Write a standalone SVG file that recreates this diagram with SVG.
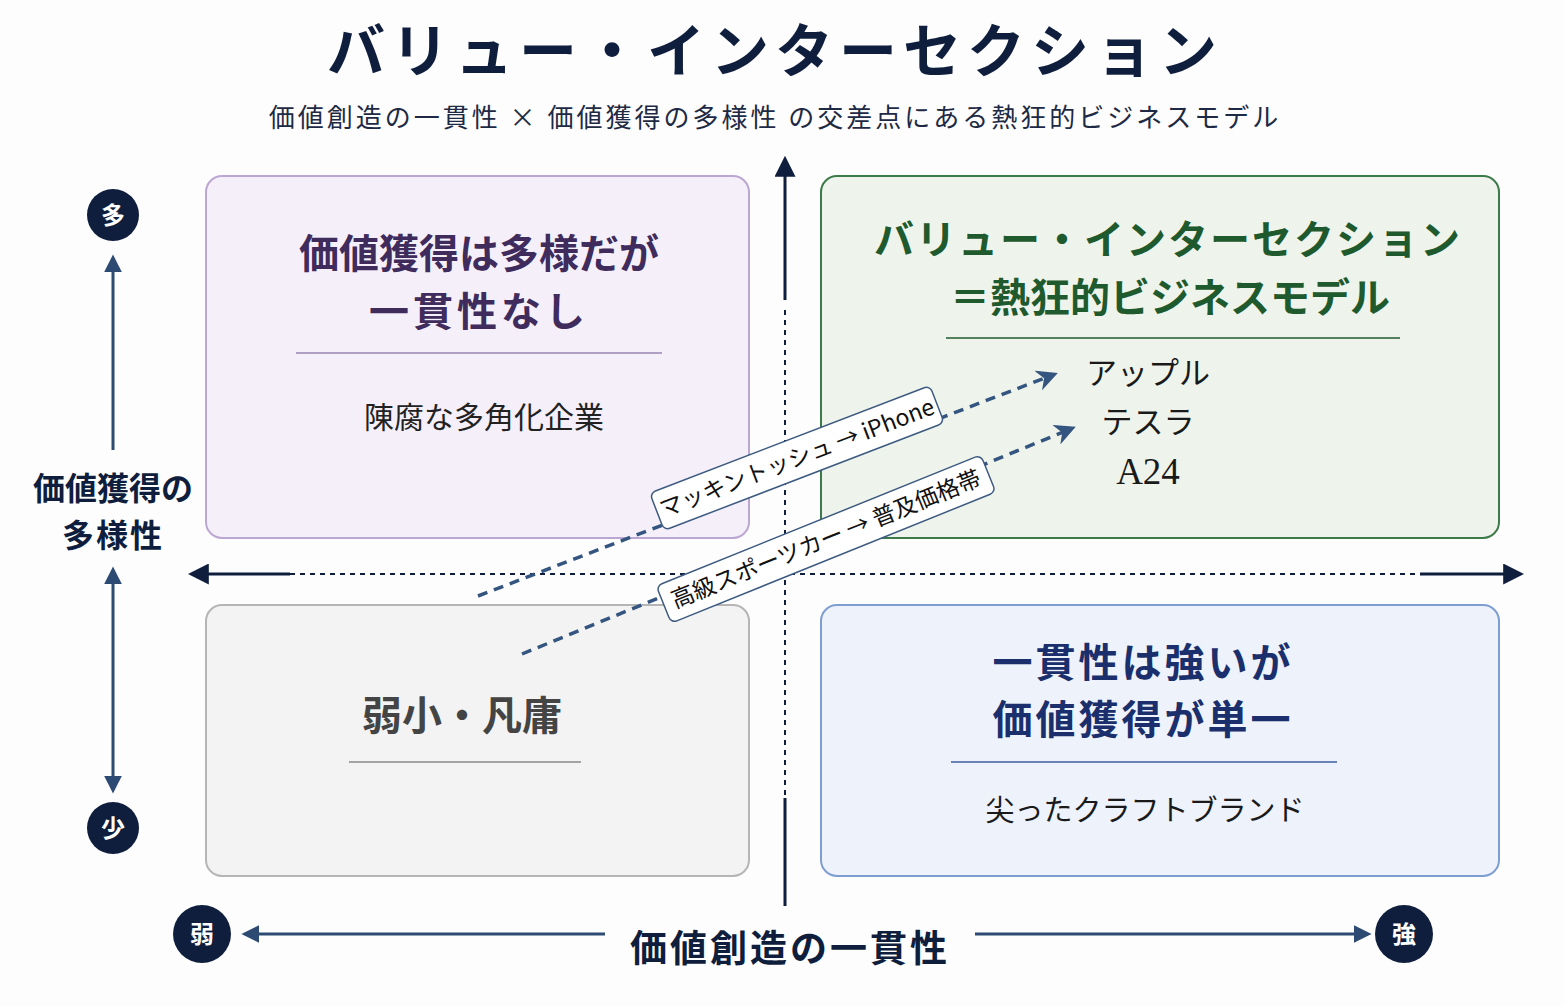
<svg xmlns="http://www.w3.org/2000/svg" width="1564" height="1006" viewBox="0 0 1564 1006">
<defs>
<style>
text{font-family:"Noto Sans CJK JP","Noto Sans",sans-serif;text-anchor:middle}
.b{font-weight:700}
.ax{stroke:#0f1e3d;stroke-width:3;fill:none}
.dash{stroke:#0f1e3d;stroke-width:2;stroke-dasharray:5 5;fill:none}
.side{stroke:#2c4a72;stroke-width:3;fill:none}
.mv{stroke:#34557f;stroke-width:3.5;stroke-dasharray:10 7;fill:none}
.circ{fill:#0f1e3d}
.ct{fill:#fff;font-size:24px;font-weight:700}
.lbl{fill:#fff;stroke:#3d5a80;stroke-width:1.5}
</style>
<marker id="ah" viewBox="0 0 10 10" refX="8" refY="5" markerWidth="7" markerHeight="7" orient="auto-start-reverse"><path d="M0,0L10,5L0,10z" fill="#0f1e3d"/></marker>
<marker id="as" viewBox="0 0 10 10" refX="8" refY="5" markerWidth="6" markerHeight="6" orient="auto-start-reverse"><path d="M0,0L10,5L0,10z" fill="#2c4a72"/></marker>
<marker id="am" viewBox="0 0 10 10" refX="6" refY="5" markerWidth="6" markerHeight="6" orient="auto"><path d="M0,0L10,5L0,10L3,5z" fill="#34557f"/></marker>
</defs>
<rect width="1564" height="1006" fill="#fdfdfd"/>
<g id="title">
<text x="775" y="72" class="b" font-size="58" fill="#0f1e3d" letter-spacing="6">バリュー・インターセクション</text>
<text x="775" y="127" font-size="26" fill="#1e2a44" letter-spacing="3">価値創造の一貫性 × 価値獲得の多様性 の交差点にある熱狂的ビジネスモデル</text>
</g>
<g id="q-tl">
<rect x="206" y="176" width="543" height="362" rx="16" fill="#f4eff8" stroke="#bca6d2" stroke-width="2"/>
<text x="479" y="268" class="b" font-size="40" fill="#3f2b5c">価値獲得は多様だが</text>
<text x="479" y="326" class="b" font-size="40" fill="#3f2b5c" letter-spacing="4">一貫性なし</text>
<line x1="296" y1="353" x2="662" y2="353" stroke="#9a85b5" stroke-width="1.5"/>
<text x="484" y="428" font-size="30" fill="#222">陳腐な多角化企業</text>
</g>
<g id="q-tr">
<rect x="821" y="176" width="678" height="362" rx="16" fill="#eef4ec" stroke="#3d7a4a" stroke-width="2"/>
<text x="1168" y="254" class="b" font-size="40" fill="#1f5a2e" letter-spacing="2">バリュー・インターセクション</text>
<text x="1170" y="312" class="b" font-size="40" fill="#1f5a2e">＝熱狂的ビジネスモデル</text>
<line x1="946" y1="338" x2="1400" y2="338" stroke="#1f5a2e" stroke-width="1.5"/>
<text x="1148" y="384" font-size="31" fill="#1a1a1a">アップル</text>
<text x="1148" y="433" font-size="31" fill="#1a1a1a">テスラ</text>
<text x="1148" y="484" font-size="37" fill="#1a1a1a" style="font-family:'Liberation Serif',serif">A24</text>
</g>
<g id="q-bl">
<rect x="206" y="605" width="543" height="271" rx="16" fill="#f3f3f3" stroke="#b5b5b5" stroke-width="2"/>
<text x="462" y="730" class="b" font-size="40" fill="#444">弱小・凡庸</text>
<line x1="349" y1="762" x2="581" y2="762" stroke="#888" stroke-width="1.5"/>
</g>
<g id="q-br">
<rect x="821" y="605" width="678" height="271" rx="16" fill="#edf2fb" stroke="#7e9ed2" stroke-width="2"/>
<text x="1143" y="677" class="b" font-size="40" fill="#1a2f6b" letter-spacing="3">一貫性は強いが</text>
<text x="1143" y="734" class="b" font-size="40" fill="#1a2f6b" letter-spacing="3">価値獲得が単一</text>
<line x1="951" y1="762" x2="1337" y2="762" stroke="#3d5da0" stroke-width="1.5"/>
<text x="1145" y="821" font-size="29" fill="#1a1a1a">尖ったクラフトブランド</text>
</g>
<g id="connectors">
<line x1="785" y1="300" x2="785" y2="160" class="ax" marker-end="url(#ah)"/>
<line x1="785" y1="310" x2="785" y2="798" class="dash"/>
<line x1="785" y1="798" x2="785" y2="906" class="ax"/>
<line x1="290" y1="574" x2="192" y2="574" class="ax" marker-end="url(#ah)"/>
<line x1="290" y1="574" x2="1420" y2="574" class="dash"/>
<line x1="1420" y1="574" x2="1520" y2="574" class="ax" marker-end="url(#ah)"/>
<line x1="113" y1="450" x2="113" y2="258" class="side" marker-end="url(#as)"/>
<line x1="113" y1="570" x2="113" y2="790" class="side" marker-start="url(#as)" marker-end="url(#as)"/>
<line x1="605" y1="934" x2="245" y2="934" class="side" marker-end="url(#as)"/>
<line x1="975" y1="934" x2="1368" y2="934" class="side" marker-end="url(#as)"/>
<path d="M478,596 L1050,376" class="mv" marker-end="url(#am)"/>
<path d="M522,654 L1068,430" class="mv" marker-end="url(#am)"/>
</g>
<g id="lbl1" transform="translate(797,458) rotate(-21)">
<rect x="-150" y="-20" width="300" height="40" rx="6" class="lbl"/>
<text x="0" y="8" font-size="23" fill="#111">マッキントッシュ → iPhone</text>
</g>
<g id="lbl2" transform="translate(826,539) rotate(-22)">
<rect x="-175" y="-20" width="350" height="40" rx="6" class="lbl"/>
<text x="0" y="8" font-size="23" fill="#111">高級スポーツカー → 普及価格帯</text>
</g>
<g id="axis-y">
<circle cx="113" cy="215" r="26" class="circ"/><text x="113" y="224" class="ct">多</text>
<text x="113" y="500" class="b" font-size="32" fill="#0f1e3d">価値獲得の</text>
<text x="113" y="547" class="b" font-size="32" fill="#0f1e3d" letter-spacing="2">多様性</text>
<circle cx="113" cy="828" r="26" class="circ"/><text x="113" y="837" class="ct">少</text>
</g>
<g id="axis-x">
<circle cx="202" cy="934" r="29" class="circ"/><text x="202" y="943" class="ct">弱</text>
<text x="790" y="962" class="b" font-size="37" fill="#0f1e3d" letter-spacing="3">価値創造の一貫性</text>
<circle cx="1404" cy="934" r="29" class="circ"/><text x="1404" y="943" class="ct">強</text>
</g>
</svg>
